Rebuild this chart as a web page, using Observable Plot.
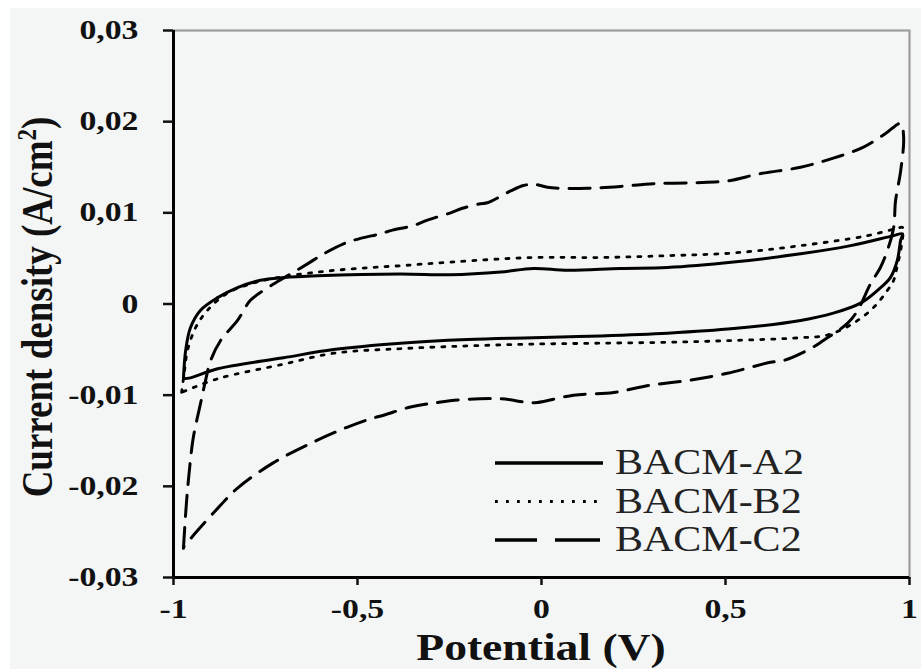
<!DOCTYPE html>
<html>
<head>
<meta charset="utf-8">
<script src="https://cdn.jsdelivr.net/npm/d3@7"></script>
<script src="https://cdn.jsdelivr.net/npm/@observablehq/plot@0.6"></script>
<style>
html,body{margin:0;padding:0;background:#ffffff;}
#wrap{position:relative;width:921px;height:669px;overflow:hidden;}
#bg{position:absolute;left:10px;top:8px;right:0;bottom:0;background:#f4f6f6;}
#chart{position:absolute;left:0;top:0;}
</style>
</head>
<body>
<div id="wrap"><div id="bg"></div><div id="chart"></div></div>
<script>
// ---- data (potential V, current density A/cm2) ----
const seriesNames = ["BACM-A2", "BACM-B2", "BACM-C2"];

const a2V = [-0.973,-0.967,-0.954,-0.927,-0.880,-0.826,-0.764,-0.701,-0.609,-0.383,-0.247,-0.111,-0.022,0.071,0.215,0.342,0.522,0.704,0.840,0.957,0.981,
             0.976,0.967,0.948,0.913,0.867,0.793,0.704,0.522,0.342,0.160,-0.022,-0.201,-0.383,-0.565,-0.701,-0.880,-0.954,-0.973];
const a2J = [-0.0082,-0.0051,-0.0026,-0.0007,0.0007,0.0018,0.0026,0.0029,0.0031,0.0033,0.0032,0.0035,0.0039,0.0037,0.0039,0.0040,0.0046,0.0055,0.0064,0.0075,0.0077,
             0.0070,0.0048,0.0029,0.0015,0.0001,-0.0010,-0.0018,-0.0027,-0.0032,-0.0035,-0.0037,-0.0039,-0.0043,-0.0050,-0.0059,-0.0071,-0.0081,-0.0082];

const b2V = [-0.978,-0.970,-0.962,-0.940,-0.908,-0.853,-0.791,-0.717,-0.609,-0.500,-0.383,-0.247,-0.022,0.160,0.342,0.522,0.704,0.886,0.967,0.981,
             0.978,0.967,0.957,0.940,0.902,0.848,0.777,0.704,0.522,0.342,0.160,-0.022,-0.201,-0.383,-0.565,-0.701,-0.880,-0.978];
const b2J = [-0.0097,-0.0073,-0.0051,-0.0026,-0.0007,0.0012,0.0022,0.0029,0.0035,0.0039,0.0042,0.0046,0.0051,0.0051,0.0053,0.0056,0.0064,0.0075,0.0083,0.0084,
             0.0064,0.0042,0.0026,0.0015,-0.0004,-0.0021,-0.0034,-0.0037,-0.0040,-0.0042,-0.0043,-0.0044,-0.0046,-0.0049,-0.0054,-0.0066,-0.0082,-0.0097];

const c2V = [-0.973,-0.965,-0.957,-0.946,-0.927,-0.913,-0.899,-0.872,-0.826,-0.791,-0.755,-0.690,-0.636,-0.592,-0.538,-0.492,-0.438,-0.405,-0.348,-0.310,-0.247,-0.215,-0.166,-0.147,-0.084,-0.049,-0.016,0.016,0.046,0.125,0.215,0.304,0.413,0.505,0.595,0.704,0.793,0.875,0.935,0.976,
             0.984,0.976,0.962,0.957,0.940,0.921,0.894,0.859,0.832,0.766,0.731,0.658,0.622,0.505,0.397,0.296,0.196,0.087,-0.011,-0.038,-0.111,-0.220,-0.283,-0.356,-0.429,-0.465,-0.527,-0.628,-0.728,-0.826,-0.891,-0.940,-0.973];
const c2J = [-0.0268,-0.0219,-0.0183,-0.0146,-0.0110,-0.0084,-0.0062,-0.0040,-0.0018,0.0004,0.0015,0.0031,0.0044,0.0055,0.0066,0.0072,0.0077,0.0081,0.0086,0.0092,0.0100,0.0105,0.0110,0.0111,0.0124,0.0130,0.0131,0.0128,0.0127,0.0127,0.0129,0.0132,0.0133,0.0135,0.0143,0.0150,0.0160,0.0172,0.0187,0.0198,
             0.0183,0.0146,0.0113,0.0084,0.0059,0.0040,0.0022,-0.0007,-0.0021,-0.0040,-0.0049,-0.0062,-0.0064,-0.0076,-0.0084,-0.0089,-0.0097,-0.0100,-0.0108,-0.0108,-0.0104,-0.0105,-0.0108,-0.0113,-0.0122,-0.0126,-0.0135,-0.0153,-0.0174,-0.0202,-0.0229,-0.0251,-0.0267];

const xTicks = [-1, -0.5, 0, 0.5, 1];
const yTicks = [-0.03, -0.02, -0.01, 0, 0.01, 0.02, 0.03];
const xLabel = "Potential (V)";
const yLabel = "Current density (A/cm";

// ---- build tables ----
const toRows = (V, J) => V.map((v, i) => ({V: v, J: J[i]}));
const rowsA = toRows(a2V, a2J);
const rowsB = toRows(b2V, b2J);
const rowsC = toRows(c2V, c2J);

const styles = [
  {strokeWidth: 3, dash: null},
  {strokeWidth: 2.8, dash: "3,8"},
  {strokeWidth: 3, dash: "21,11"}
];

const fmt = d => d === 0 ? "0" : String(d).replace(".", ",");
const serif = "'Liberation Serif','Times New Roman',serif";

const plot = Plot.plot({
  width: 921,
  height: 669,
  marginLeft: 173,
  marginRight: 12,
  marginTop: 30,
  marginBottom: 92,
  x: {domain: [-1, 1]},
  y: {domain: [-0.03, 0.03]},
  style: {background: "transparent", fontFamily: serif, fontSize: "27px", fontWeight: "bold", color: "#111"},
  marks: [
    Plot.frame({stroke: "#9c9c9c", strokeWidth: 2.2}),
    Plot.line(rowsA, {x: "V", y: "J", stroke: "#000", strokeWidth: styles[0].strokeWidth, curve: "catmull-rom"}),
    Plot.line(rowsB, {x: "V", y: "J", stroke: "#000", strokeWidth: styles[1].strokeWidth, strokeDasharray: styles[1].dash, curve: "catmull-rom"}),
    Plot.line(rowsC, {x: "V", y: "J", stroke: "#000", strokeWidth: styles[2].strokeWidth, strokeDasharray: styles[2].dash, curve: "catmull-rom"}),
    Plot.ruleX([-1], {stroke: "#000", strokeWidth: 3}),
    Plot.ruleY([-0.03], {stroke: "#000", strokeWidth: 3}),
    Plot.axisY({ticks: yTicks, tickSize: 10, tickPadding: 25, tickFormat: fmt, label: null, strokeWidth: 2.5}),
    Plot.axisX({ticks: xTicks, tickSize: 8, tickPadding: 13, tickFormat: fmt, label: null, strokeWidth: 2.5})
  ]
});
document.getElementById("chart").appendChild(plot);

// horizontally stretch tick labels like the reference
const svg = d3.select(plot);
svg.selectAll('g[aria-label="y-axis tick label"] text, g[aria-label="x-axis tick label"] text').each(function() {
  const t = this.getAttribute("transform");
  if (t) this.setAttribute("transform", t + " scale(1.25,1)");
  else {
    const x = +this.getAttribute("x") || 0, y = +this.getAttribute("y") || 0;
    this.removeAttribute("x"); this.removeAttribute("y");
    this.setAttribute("transform", `translate(${x},${y}) scale(1.25,1)`);
  }
});

// axis titles
svg.append("text")
  .attr("transform", "translate(541,660) scale(1.2,1)")
  .attr("text-anchor", "middle")
  .style("font-family", serif).style("font-weight", "bold").style("font-size", "38px")
  .attr("fill", "#111")
  .text(xLabel);

const yl = svg.append("text")
  .attr("transform", "translate(52,307) rotate(-90) scale(1,1.22)")
  .attr("text-anchor", "middle")
  .style("font-family", serif).style("font-weight", "bold").style("font-size", "37px")
  .attr("fill", "#111");
yl.append("tspan").text(yLabel);
yl.append("tspan").attr("dy", -13).style("font-size", "23px").text("2");
yl.append("tspan").attr("dy", 13).text(")");

// legend
const lg = svg.append("g").attr("transform", "translate(495,463)");
seriesNames.forEach((name, i) => {
  const g = lg.append("g").attr("transform", `translate(0,${i * 38.5})`);
  if (i === 2) {
    g.append("line").attr("x1", 0).attr("x2", 42).attr("y1", 0).attr("y2", 0).attr("stroke", "#000").attr("stroke-width", 3.6);
    g.append("line").attr("x1", 60).attr("x2", 105).attr("y1", 0).attr("y2", 0).attr("stroke", "#000").attr("stroke-width", 3.6);
  } else {
    g.append("line").attr("x1", 0).attr("x2", i === 0 ? 108 : 102).attr("y1", 0).attr("y2", 0)
      .attr("stroke", "#000").attr("stroke-width", i === 0 ? 3.6 : 2.8)
      .attr("stroke-dasharray", i === 1 ? "2.8,8.2" : null);
  }
  g.append("text")
    .attr("transform", "translate(120,11) scale(1.2,1)")
    .attr("text-anchor", "start")
    .style("font-family", serif).style("font-size", "35px").style("font-weight", "normal")
    .attr("fill", "#222")
    .text(name);
});
</script>
</body>
</html>
